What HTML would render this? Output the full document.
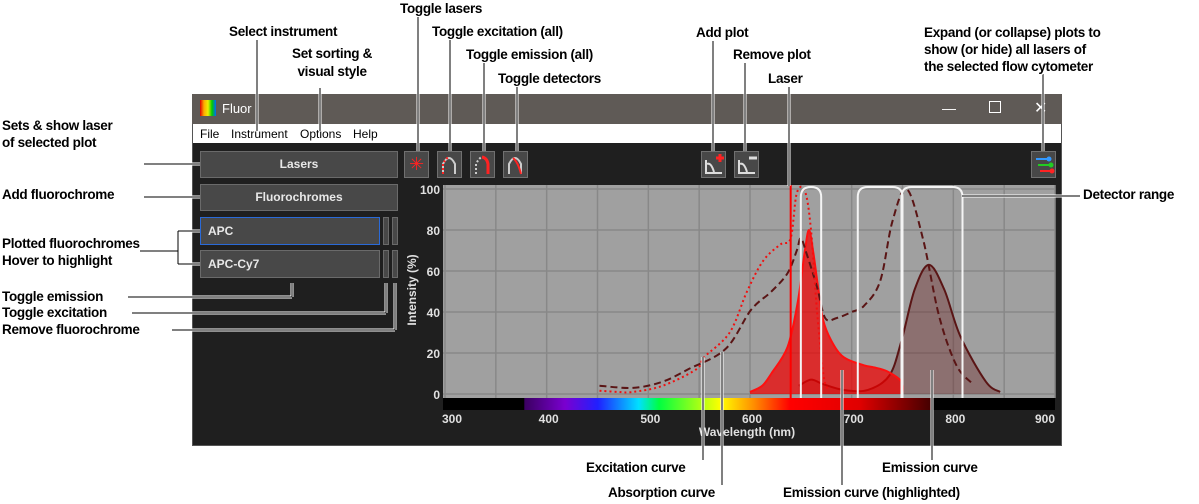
<!DOCTYPE html>
<html><head><meta charset="utf-8">
<style>
body{margin:0;width:1199px;height:504px;background:#fff;position:relative;overflow:hidden;font-family:"Liberation Sans",Arial,sans-serif}
.a{position:absolute;font-weight:bold;font-size:13.5px;letter-spacing:-0.3px;color:#000;white-space:nowrap;line-height:16px;
text-shadow:-1px -1px 0 #fff,1px -1px 0 #fff,-1px 1px 0 #fff,1px 1px 0 #fff,0 1px 0 #fff,0 -1px 0 #fff,1px 0 0 #fff,-1px 0 0 #fff}
.btn{position:absolute;background:#484848;border:1px solid #6a6a6a;box-sizing:border-box;color:#e8e8e8;font-weight:bold;font-size:12px}
.ic{position:absolute;width:25px;height:27px;background:#484848;border:1px solid #707070;box-sizing:border-box}
</style></head><body>
<div style="position:absolute;left:192px;top:94px;width:870px;height:352px;background:#1f1f1f;border:1px solid #555;box-sizing:border-box"></div>
<div style="position:absolute;left:192px;top:94px;width:870px;height:30px;background:#5f5a56"></div>
<div style="position:absolute;left:200px;top:100px;width:16px;height:16px;background:linear-gradient(90deg,#d00,#fa0,#ee0,#0c0,#06f)"></div>
<div style="position:absolute;left:222px;top:101px;color:#fff;font-size:13px">Fluor</div>
<div style="position:absolute;left:942px;top:100px;color:#fff;font-size:14px">—</div>
<div style="position:absolute;left:989px;top:101px;width:10px;height:10px;border:1px solid #fff"></div>
<div style="position:absolute;left:1034px;top:98px;color:#fff;font-size:16px">✕</div>
<div style="position:absolute;left:193px;top:124px;width:868px;height:19px;background:#fff;font-size:12px;color:#000">
<span style="position:absolute;left:7px;top:3px">File</span>
<span style="position:absolute;left:38px;top:3px">Instrument</span>
<span style="position:absolute;left:107px;top:3px">Options</span>
<span style="position:absolute;left:160px;top:3px">Help</span></div>

<div class="btn" style="left:200px;top:151px;width:198px;height:27px;text-align:center;line-height:25px">Lasers</div>
<div class="btn" style="left:200px;top:184px;width:198px;height:27px;text-align:center;line-height:25px">Fluorochromes</div>
<div class="btn" style="left:200px;top:217px;width:180px;height:28px;border-color:#2a6ad8;padding-left:7px;line-height:26px">APC</div>
<div class="btn" style="left:383px;top:217px;width:6px;height:28px"></div>
<div class="btn" style="left:392px;top:217px;width:6px;height:28px"></div>
<div class="btn" style="left:200px;top:250px;width:180px;height:28px;padding-left:7px;line-height:26px">APC-Cy7</div>
<div class="btn" style="left:383px;top:250px;width:6px;height:28px"></div>
<div class="btn" style="left:392px;top:250px;width:6px;height:28px"></div>

<div class="ic" style="left:404px;top:151px;color:#f22;text-align:center;font-size:18px;line-height:24px">✳</div>
<div class="ic" style="left:437px;top:151px"><svg width="23" height="25"><path d="M5 22V12Q11 0 17 12V22" fill="none" stroke="#ccc" stroke-width="2"/><path d="M5 22V12Q8 6 11 5" fill="none" stroke="#f22" stroke-width="2" stroke-dasharray="2 2"/></svg></div>
<div class="ic" style="left:470px;top:151px"><svg width="23" height="25"><path d="M5 22V12Q8 6 11 5" fill="none" stroke="#ccc" stroke-width="2" stroke-dasharray="2 2"/><path d="M11 5Q16 6 17 12V22" fill="none" stroke="#f22" stroke-width="3"/></svg></div>
<div class="ic" style="left:503px;top:151px"><svg width="23" height="25"><path d="M5 22V12Q11 0 17 12V22" fill="none" stroke="#ccc" stroke-width="2"/><path d="M9 6Q14 10 17 22" fill="none" stroke="#f22" stroke-width="2"/></svg></div>
<div class="ic" style="left:701px;top:151px"><svg width="23" height="25"><path d="M4 8V21H20M5 12Q9 10 12 20" fill="none" stroke="#ddd" stroke-width="2"/><path d="M14 6H22M18 2V10" stroke="#f22" stroke-width="3"/></svg></div>
<div class="ic" style="left:734px;top:151px"><svg width="23" height="25"><path d="M4 8V21H20M5 12Q9 10 12 20" fill="none" stroke="#ddd" stroke-width="2"/><path d="M14 6H22" stroke="#ddd" stroke-width="3"/></svg></div>
<div class="ic" style="left:1031px;top:151px"><svg width="23" height="25"><path d="M4 7H17" stroke="#39f" stroke-width="2"/><path d="M6 13H19" stroke="#2c2" stroke-width="2"/><path d="M8 19H20" stroke="#f22" stroke-width="2"/><circle cx="17" cy="7" r="2.5" fill="#39f"/><circle cx="19" cy="13" r="2.5" fill="#2c2"/><circle cx="20" cy="19" r="2.5" fill="#f22"/></svg></div>

<svg id="chart" width="1199" height="504" style="position:absolute;left:0;top:0"></svg>

<div class="a" style="left:400px;top:1px">Toggle lasers</div>
<div class="a" style="left:229px;top:24px">Select instrument</div>
<div class="a" style="left:432px;top:24px">Toggle excitation (all)</div>
<div class="a" style="left:292px;top:45px;text-align:center;line-height:18px">Set sorting &amp;<br>visual style</div>
<div class="a" style="left:466px;top:47px">Toggle emission (all)</div>
<div class="a" style="left:498px;top:71px">Toggle detectors</div>
<div class="a" style="left:696px;top:25px">Add plot</div>
<div class="a" style="left:733px;top:47px">Remove plot</div>
<div class="a" style="left:768px;top:71px">Laser</div>
<div class="a" style="left:924px;top:24px;line-height:17px">Expand (or collapse) plots to<br>show (or hide) all lasers of<br>the selected flow cytometer</div>
<div class="a" style="left:2px;top:117px;line-height:17px">Sets &amp; show laser<br>of selected plot</div>
<div class="a" style="left:2px;top:187px">Add fluorochrome</div>
<div class="a" style="left:2px;top:235px;line-height:17px">Plotted fluorochromes<br>Hover to highlight</div>
<div class="a" style="left:2px;top:289px">Toggle emission</div>
<div class="a" style="left:2px;top:305px">Toggle excitation</div>
<div class="a" style="left:2px;top:322px">Remove fluorochrome</div>
<div class="a" style="left:1083px;top:187px">Detector range</div>
<div class="a" style="left:586px;top:460px">Excitation curve</div>
<div class="a" style="left:608px;top:485px">Absorption curve</div>
<div class="a" style="left:783px;top:485px">Emission curve (highlighted)</div>
<div class="a" style="left:882px;top:460px">Emission curve</div>

<script>
const xTicks=[300,400,500,600,700,800,900];
const yTicks=[0,20,40,60,80,100];
const laserNm=[640];
const detectorLo=[650,706,749];
const detectorHi=[670,750,809];
const apcExWl=[452,470,485,514,547,555,580,597,613,630,640,646,654,660,666,673,679];
const apcExVal=[1.6,1,1,4,12,18,30,50,65,73,76,98,99,80,40,7,3];
const apcEmWl=[600,612,621,637,647,654,658,662,667,672,680,692,712,722,735,749,750];
const apcEmVal=[1,4,10,23,45,70,80,70,52,36,26,18,14,13,11,6,0];
const cy7ExWl=[452,485,514,539,576,601,621,637,646,650,656,666,674,685,700,712,728,740,754,770,786,803,819];
const cy7ExVal=[4,3,6,12,22,41,50,59,70,76,68,52,37,37,40,43,55,84,100,76,38,14,5];
const cy7EmWl=[648,660,671,692,716,737,749,762,776,791,807,832,846];
const cy7EmVal=[4,7,5,2,2,9,26,51,63,51,28,6,1];

const svg=document.getElementById('chart');
const NS='http://www.w3.org/2000/svg';
const X=w=>445+(w-300)*1.0167;
const Y=v=>394-v*2.05;
function mk(t,at){const e=document.createElementNS(NS,t);for(const k in at)e.setAttribute(k,at[k]);svg.appendChild(e);return e;}
let bg=mk('rect',{x:443,y:185,width:612,height:213,fill:'#a0a0a0'});


for(let w=300;w<=900;w+=50){let g=mk('line',{x1:X(w),x2:X(w),y1:185,y2:398,stroke:'#888','stroke-width':1.5});

}
for(let v=0;v<=100;v+=20){let g=mk('line',{x1:443,x2:1055,y1:Y(v),y2:Y(v),stroke:'#888','stroke-width':1.5});

}
const defs=mk('defs',{});
defs.innerHTML='<linearGradient id="sp" x1="0" x2="1"><stop offset="0" stop-color="#3a0060"/><stop offset="0.1" stop-color="#7a00d0"/><stop offset="0.18" stop-color="#2020ff"/><stop offset="0.28" stop-color="#00e0ff"/><stop offset="0.33" stop-color="#00ff40"/><stop offset="0.48" stop-color="#ffff00"/><stop offset="0.56" stop-color="#ff9000"/><stop offset="0.65" stop-color="#ff0000"/><stop offset="0.82" stop-color="#e00000"/><stop offset="1" stop-color="#400000"/></linearGradient>';
let sb=mk('rect',{x:443,y:398,width:612,height:12,fill:'#000'});


mk('rect',{x:X(378),y:398,width:X(780)-X(378),height:12,fill:'url(#sp)'});
xTicks.forEach(t=>{let e=mk('text',{x:t==300?452:(t==900?1045:X(t)+2),y:423,fill:'#e0e0e0','font-size':12,'font-weight':'bold','text-anchor':'middle','font-family':'Liberation Sans'});e.textContent=t;

});
yTicks.forEach(t=>{let e=mk('text',{x:440,y:Y(t)+5,fill:'#e0e0e0','font-size':12,'font-weight':'bold','text-anchor':'end','font-family':'Liberation Sans'});e.textContent=t;

});
let xt=mk('text',{x:747,y:436,fill:'#e0e0e0','font-size':12,'font-weight':'bold','text-anchor':'middle','font-family':'Liberation Sans'});xt.textContent='Wavelength (nm)';


let yt=mk('text',{x:0,y:0,fill:'#e0e0e0','font-size':12,'font-weight':'bold','text-anchor':'middle','font-family':'Liberation Sans',transform:'translate(416,290) rotate(-90)'});yt.textContent='Intensity (%)';


function smooth(w,v){
 const p=w.map((x,i)=>[X(x),Y(v[i])]);
 let d='M'+p[0][0].toFixed(1)+','+p[0][1].toFixed(1);
 for(let i=0;i<p.length-1;i++){
  const p0=p[Math.max(0,i-1)],p1=p[i],p2=p[i+1],p3=p[Math.min(p.length-1,i+2)];
  const c1=[p1[0]+(p2[0]-p0[0])/6,p1[1]+(p2[1]-p0[1])/6];
  const c2=[p2[0]-(p3[0]-p1[0])/6,p2[1]-(p3[1]-p1[1])/6];
  d+=`C${c1[0].toFixed(1)},${c1[1].toFixed(1)} ${c2[0].toFixed(1)},${c2[1].toFixed(1)} ${p2[0].toFixed(1)},${p2[1].toFixed(1)}`;
 }
 return d;}
function area(w,v,fill,stroke,name){
 const s=smooth(w,v);
 let p=mk('path',{d:s+`L${X(w[w.length-1])},${Y(0)}L${X(w[0])},${Y(0)}Z`,fill:fill,stroke:'none'});
 
 
 let l=mk('path',{d:s,fill:'none',stroke:stroke,'stroke-width':2,'stroke-linejoin':'round'});
 
 }
area(cy7EmWl,cy7EmVal,'rgba(110,40,40,0.4)','#5a1515','apc-cy7-emission');
area(apcEmWl,apcEmVal,'rgba(240,0,0,0.72)','#ff1010','apc-emission');
let c1=mk('path',{d:smooth(cy7ExWl,cy7ExVal),fill:'none',stroke:'#5a1515','stroke-width':2,'stroke-dasharray':'7 4'});


let c2=mk('path',{d:smooth(apcExWl,apcExVal),fill:'none',stroke:'#f01010','stroke-width':2,'stroke-dasharray':'2 3'});


laserNm.forEach(n=>{let l=mk('line',{x1:X(n),x2:X(n),y1:185,y2:398,stroke:'#f00','stroke-width':2});

});
detectorLo.forEach((lo,i)=>{const a=X(lo),b=X(detectorHi[i]),t=187,r=10;
 let d=mk('path',{d:`M${a},398V${t+r}Q${a},${t} ${a+r},${t}H${b-r}Q${b},${t} ${b},${t+r}V398`,fill:'none',stroke:'#f4f4f4','stroke-width':2});
 
 });
const L=[[257,40,257,131],[320,88,320,131],[418,17,418,151],[450,40,450,151],[484,63,484,151],[517,87,517,151],[713,41,713,151],[745,63,745,151],[789,87,789,186],[1043,74,1043,151],
[144,164,200,164],[144,197,200,197],[140,251,178,251],[178,231,178,264],[178,231,200,231],[178,264,200,264],
[128,297,292,297],[292,297,292,283],[132,313,386,313],[386,313,386,283],[172,330,395,330],[395,330,395,283],
[962,196,1080,196],[703,460,703,357],[722,485,722,352],[842,485,842,370],[932,460,932,370]];
L.forEach(s=>mk('line',{x1:s[0],y1:s[1],x2:s[2],y2:s[3],stroke:'#fff','stroke-width':3}));
L.forEach(s=>{let e=mk('line',{x1:s[0],y1:s[1],x2:s[2],y2:s[3],stroke:'#000','stroke-width':1});

});
</script>
</body></html>
